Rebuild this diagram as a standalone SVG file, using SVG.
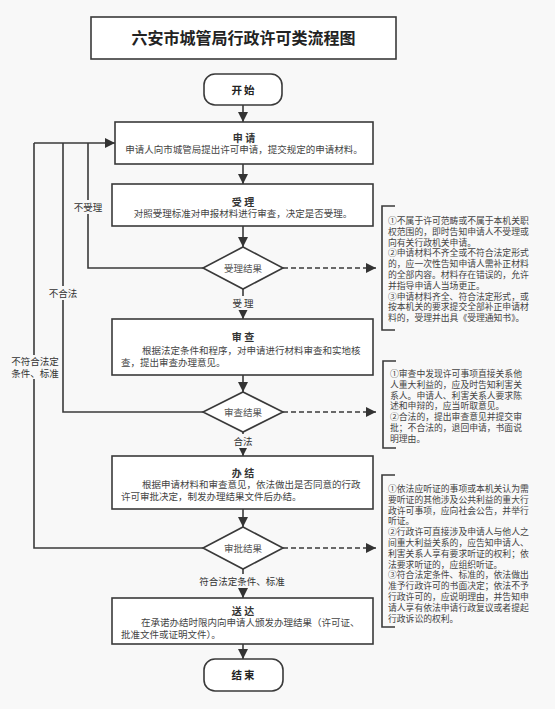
<svg xmlns="http://www.w3.org/2000/svg" width="555" height="709" viewBox="0 0 555 709">
<defs>
<marker id="ah" viewBox="0 0 10 10" refX="10" refY="5" markerWidth="10" markerHeight="10" markerUnits="userSpaceOnUse" orient="auto">
<path d="M0,0 L10,5 L0,10 z" fill="#333"/>
</marker>
<style>
.box{fill:#fff;stroke:#3a3a3a;stroke-width:1.6}
.ln{fill:none;stroke:#3a3a3a;stroke-width:1.6}
.dash{fill:none;stroke:#3a3a3a;stroke-width:1.6;stroke-dasharray:5,3}
text{font-family:"Noto Sans CJK SC","Noto Sans",sans-serif;fill:#444}
.title{font-size:16px;font-weight:bold;fill:#222}
.term{font-size:10.5px;font-weight:bold;fill:#222;letter-spacing:2px}
.hd{font-size:10px;font-weight:bold;fill:#333}
.body{font-size:9.5px}
.dia{font-size:9.5px;fill:#555}
.lbl{font-size:9.5px;fill:#333}
.note{font-size:8.8px;fill:#444}
.bg{fill:#f8f8f8}
</style>
</defs>
<rect x="0" y="0" width="555" height="709" fill="#f8f8f8"/>

<g id="title">
<rect class="box" x="91" y="17" width="305" height="42"/>
<text class="title" x="243.5" y="43.5" text-anchor="middle">六安市城管局行政许可类流程图</text>
</g>

<g id="connectors">
<path class="ln" d="M243,105 V122" marker-end="url(#ah)"/>
<path class="ln" d="M243,164 V184" marker-end="url(#ah)"/>
<path class="ln" d="M243,226 V247" marker-end="url(#ah)"/>
<path class="ln" d="M243,289 V319" marker-end="url(#ah)"/>
<path class="ln" d="M243,375 V392" marker-end="url(#ah)"/>
<path class="ln" d="M243,432 V456" marker-end="url(#ah)"/>
<path class="ln" d="M243,509 V527" marker-end="url(#ah)"/>
<path class="ln" d="M243,568 V598" marker-end="url(#ah)"/>
<path class="ln" d="M243,644 V659" marker-end="url(#ah)"/>
<path class="ln" d="M203,268 H88 V143"/>
<path class="ln" d="M203,412 H63 V143"/>
<path class="ln" d="M203,548 H34 V143"/>
<path class="ln" d="M34,143 H115" marker-end="url(#ah)"/>
<path class="dash" d="M283,268 H376" marker-end="url(#ah)"/>
<path class="dash" d="M283,412 H376" marker-end="url(#ah)"/>
<path class="dash" d="M283,548 H376" marker-end="url(#ah)"/>
<rect class="bg" x="72" y="200" width="32" height="14"/>
<text class="lbl" x="88" y="210.5" text-anchor="middle">不受理</text>
<rect class="bg" x="48" y="286" width="31" height="14"/>
<text class="lbl" x="63" y="296.5" text-anchor="middle">不合法</text>
<rect class="bg" x="10" y="355" width="50" height="24"/>
<text class="lbl" x="35" y="365" text-anchor="middle">不符合法定</text>
<text class="lbl" x="35" y="376.5" text-anchor="middle">条件、标准</text>
<rect class="bg" x="228" y="296" width="30" height="14"/>
<text class="lbl" x="243" y="306.5" text-anchor="middle">受 理</text>
<rect class="bg" x="230" y="434" width="26" height="14"/>
<text class="lbl" x="243" y="444.5" text-anchor="middle">合法</text>
<rect class="bg" x="198" y="574" width="90" height="14"/>
<text class="lbl" x="242" y="584.5" text-anchor="middle">符合法定条件、标准</text>
</g>

<g id="start">
<rect class="box" x="204" y="74" width="78" height="31" rx="11"/>
<text class="term" x="244" y="93.5" text-anchor="middle">开始</text>
</g>

<g id="apply">
<rect class="box" x="115" y="122" width="258" height="42"/>
<text class="hd" x="244" y="141.5" text-anchor="middle">申 请</text>
<text class="body" x="244" y="153" text-anchor="middle">申请人向市城管局提出许可申请，提交规定的申请材料。</text>
</g>

<g id="accept">
<rect class="box" x="112" y="184" width="261" height="42"/>
<text class="hd" x="243" y="205.5" text-anchor="middle">受 理</text>
<text class="body" x="243" y="216.5" text-anchor="middle">对照受理标准对申报材料进行审查，决定是否受理。</text>
</g>

<g id="accept-result">
<polygon class="box" points="243,247 283,268 243,289 203,268"/>
<text class="dia" x="243" y="271.5" text-anchor="middle">受理结果</text>
</g>

<g id="review">
<rect class="box" x="112" y="319" width="261" height="56"/>
<text class="hd" x="243" y="340.5" text-anchor="middle">审 查</text>
<text class="body" x="142" y="353.5">根据法定条件和程序，对申请进行材料审查和实地核</text>
<text class="body" x="121" y="366">查，提出审查办理意见。</text>
</g>

<g id="review-result">
<polygon class="box" points="243,392 283,412 243,432 203,412"/>
<text class="dia" x="243" y="415.5" text-anchor="middle">审查结果</text>
</g>

<g id="conclude">
<rect class="box" x="112" y="456" width="261" height="53"/>
<text class="hd" x="243" y="476.5" text-anchor="middle">办 结</text>
<text class="body" x="142" y="487.5">根据申请材料和审查意见，依法做出是否同意的行政</text>
<text class="body" x="121" y="499.5">许可审批决定，制发办理结果文件后办结。</text>
</g>

<g id="approve-result">
<polygon class="box" points="243,527 283,548 243,569 203,548"/>
<text class="dia" x="243" y="551.5" text-anchor="middle">审批结果</text>
</g>

<g id="deliver">
<rect class="box" x="112" y="598" width="261" height="46"/>
<text class="hd" x="243" y="614.5" text-anchor="middle">送 达</text>
<text class="body" x="141" y="625.5">在承诺办结时限内向申请人颁发办理结果（许可证、</text>
<text class="body" x="121" y="637.5">批准文件或证明文件）。</text>
</g>

<g id="end">
<rect class="box" x="204" y="659" width="79" height="32" rx="11"/>
<text class="term" x="244" y="679" text-anchor="middle">结束</text>
</g>

<g id="note1">
<path class="ln" d="M395,206 H382 V330 H395"/>
<text class="note" x="388">
<tspan x="388" y="224">①不属于许可范畴或不属于本机关职</tspan>
<tspan x="388" y="234.8">权范围的，即时告知申请人不受理或</tspan>
<tspan x="388" y="245.6">向有关行政机关申请。</tspan>
<tspan x="388" y="256.4">②申请材料不齐全或不符合法定形式</tspan>
<tspan x="388" y="267.2">的，应一次性告知申请人需补正材料</tspan>
<tspan x="388" y="278">的全部内容。材料存在错误的，允许</tspan>
<tspan x="388" y="288.8">并指导申请人当场更正。</tspan>
<tspan x="388" y="299.6">③申请材料齐全、符合法定形式，或</tspan>
<tspan x="388" y="310.4">按本机关的要求提交全部补正申请材</tspan>
<tspan x="388" y="321.2">料的，受理并出具《受理通知书》。</tspan>
</text>
</g>

<g id="note2">
<path class="ln" d="M396,361 H383 V448 H396"/>
<text class="note">
<tspan x="390" y="377">①审查中发现许可事项直接关系他</tspan>
<tspan x="390" y="387.8">人重大利益的，应及时告知利害关</tspan>
<tspan x="390" y="398.6">系人。申请人、利害关系人要求陈</tspan>
<tspan x="390" y="409.4">述和申辩的，应当听取意见。</tspan>
<tspan x="390" y="420.2">②合法的，提出审查意见并提交审</tspan>
<tspan x="390" y="431">批；不合法的，退回申请，书面说</tspan>
<tspan x="390" y="441.8">明理由。</tspan>
</text>
</g>

<g id="note3">
<path class="ln" d="M395,475 H382 V627 H395"/>
<text class="note">
<tspan x="388" y="492">①依法应听证的事项或本机关认为需</tspan>
<tspan x="388" y="502.8">要听证的其他涉及公共利益的重大行</tspan>
<tspan x="388" y="513.6">政许可事项，应向社会公告，并举行</tspan>
<tspan x="388" y="524.4">听证。</tspan>
<tspan x="388" y="535.2">②行政许可直接涉及申请人与他人之</tspan>
<tspan x="388" y="546">间重大利益关系的，应告知申请人、</tspan>
<tspan x="388" y="556.8">利害关系人享有要求听证的权利；依</tspan>
<tspan x="388" y="567.6">法要求听证的，应组织听证。</tspan>
<tspan x="388" y="578.4">③符合法定条件、标准的，依法做出</tspan>
<tspan x="388" y="589.2">准予行政许可的书面决定；依法不予</tspan>
<tspan x="388" y="600">行政许可的，应说明理由，并告知申</tspan>
<tspan x="388" y="610.8">请人享有依法申请行政复议或者提起</tspan>
<tspan x="388" y="621.6">行政诉讼的权利。</tspan>
</text>
</g>
</svg>
